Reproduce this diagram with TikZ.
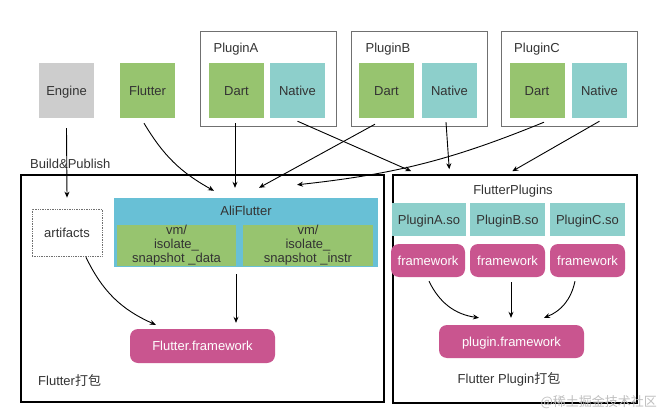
\documentclass[tikz,border=0pt]{standalone}
\usepackage{fontspec}
\setmainfont{Liberation Sans}
\newfontfamily\cjk{Noto Sans CJK SC}
\usetikzlibrary{arrows.meta}
\definecolor{cgray}{HTML}{CDCDCD}
\definecolor{cgreen}{HTML}{97C46F}
\definecolor{cteal}{HTML}{8DCFCB}
\definecolor{cblue}{HTML}{68C0D6}
\definecolor{cmag}{HTML}{C9558F}
\definecolor{ctext}{HTML}{333333}
\definecolor{cframe}{HTML}{707070}
\tikzset{
  even/.style={text height=12pt, text depth=2.7pt},
  sq/.style={even, minimum width=55pt, minimum height=55pt, inner sep=0pt, text=ctext},
  container/.style={draw=cframe, line width=0.8pt, minimum width=136pt, minimum height=95pt, inner sep=0pt},
  bigbox/.style={draw=black, line width=1.5pt, inner sep=0pt},
  sobox/.style={even, fill=cteal, minimum height=33pt, inner sep=0pt, text=ctext},
  fwbox/.style={even, fill=cmag, rounded corners=8pt, minimum height=33pt, inner sep=0pt, text=white},
  snapbox/.style={fill=cgreen, minimum height=39pt, inner sep=0pt, text=ctext, align=center,
    font=\fontsize{13}{14}\selectfont},
  lbl/.style={even, text=ctext, inner sep=0pt},
  arr/.style={-{Stealth[length=6pt,width=5pt]}, line width=0.9pt, black}
}
\begin{document}
\begin{tikzpicture}[x=1pt,y=1pt,font=\fontsize{13}{15}\selectfont]
\useasboundingbox[fill=white] (0,0) rectangle (662,-415);

% top row
\node[sq, fill=cgray] (engine) at (66.5,-90.5) {Engine};
\node[sq, fill=cgreen] (flutter) at (147.5,-90.5) {Flutter};

\node[container] (boxA) at (268,-78.5) {};
\node[lbl] (labA) at (236,-48) {PluginA};
\node[sq, fill=cgreen] (dartA) at (236.5,-90.5) {Dart};
\node[sq, fill=cteal] (nativeA) at (297.5,-90.5) {Native};

\node[container] (boxB) at (419,-78.5) {};
\node[lbl] (labB) at (388,-48) {PluginB};
\node[sq, fill=cgreen] (dartB) at (386.5,-90.5) {Dart};
\node[sq, fill=cteal] (nativeB) at (449.5,-90.5) {Native};

\node[container] (boxC) at (569,-78.5) {};
\node[lbl] (labC) at (537,-48) {PluginC};
\node[sq, fill=cgreen] (dartC) at (537,-90.5) {Dart};
\node[sq, fill=cteal] (nativeC) at (599.5,-90.5) {Native};

% big boxes
\node[bigbox, minimum width=363pt, minimum height=227pt] (leftbox) at (202.5,-288.5) {};
\node[bigbox, minimum width=244pt, minimum height=228pt] (rightbox) at (515,-289) {};

\node[lbl, anchor=west] (build) at (30,-164) {Build\&Publish};

% left content
\node[even, draw=cframe, densely dotted, line width=0.7pt, minimum width=70pt, minimum height=47pt, inner sep=0pt, text=ctext] (artifacts) at (67,-232.5) {artifacts};
\node[fill=cblue, minimum width=264pt, minimum height=69pt, inner sep=0pt] (aliflutter) at (246,-232.5) {};
\node[lbl] (alilab) at (246,-211) {AliFlutter};
\node[snapbox, minimum width=119pt] (snapdata) at (176.5,-245.5) {vm/\\isolate\_\\snapshot \_data};
\node[snapbox, minimum width=130pt] (snapinstr) at (308,-245.5) {vm/\\isolate\_\\snapshot \_instr};
\node[fwbox, minimum width=145pt, minimum height=34pt] (flutterfw) at (202.5,-346) {Flutter.framework};
\node[lbl, anchor=west] (leftlab) at (38,-381) {Flutter{\cjk 打包}};

% right content
\node[lbl] (fplab) at (513,-190) {FlutterPlugins};
\node[sobox, minimum width=74pt] (soA) at (429,-219.5) {PluginA.so};
\node[sobox, minimum width=75pt] (soB) at (507.5,-219.5) {PluginB.so};
\node[sobox, minimum width=75pt] (soC) at (587.5,-219.5) {PluginC.so};
\node[fwbox, minimum width=74pt] (fwA) at (428,-260.5) {framework};
\node[fwbox, minimum width=75pt] (fwB) at (507.5,-260.5) {framework};
\node[fwbox, minimum width=75pt] (fwC) at (587.5,-260.5) {framework};
\node[fwbox, minimum width=145pt] (pluginfw) at (511.5,-341.5) {plugin.framework};
\node[lbl] (rightlab) at (509,-379) {Flutter Plugin{\cjk 打包}};

\node[text=black!25, inner sep=0pt, anchor=east] (wm) at (657,-402) {{\cjk @稀土掘金技术社区}};

% arrows
\draw[arr] ([yshift=-10pt]engine.south) -- ([yshift=11pt]artifacts.north);
\draw[arr] ([xshift=-3.5pt,yshift=-5pt]flutter.south) to[bend right=15] ([xshift=-32pt,yshift=7pt]aliflutter.north);
\draw[arr] ([xshift=-1.5pt,yshift=-5pt]dartA.south) -- ([xshift=-11pt,yshift=10pt]aliflutter.north);
\draw[arr] ([xshift=-11.5pt,yshift=-6pt]dartB.south) -- ([xshift=13pt,yshift=10pt]aliflutter.north);
\draw[arr] ([xshift=7pt,yshift=-4pt]dartC.south) to[bend left=8] ([xshift=51pt,yshift=13pt]aliflutter.north);
\draw[arr] ([yshift=-3pt]nativeA.south) -- ([xshift=19pt,yshift=3pt]rightbox.north west);
\draw[arr] ([xshift=-3.5pt,yshift=-4pt]nativeB.south) -- ([xshift=57pt,yshift=5pt]rightbox.north west);
\draw[arr] ([yshift=-3pt]nativeC.south) -- ([xshift=120pt,yshift=3pt]rightbox.north west);

\draw[arr] ([xshift=-10pt,yshift=-7pt]aliflutter.south) -- ([xshift=33.5pt,yshift=6pt]flutterfw.north);
\draw[arr] ([xshift=19pt,yshift=-1pt]artifacts.south) to[bend right=20] ([xshift=26pt,yshift=4pt]flutterfw.north west);

\draw[arr] ([xshift=1pt,yshift=-4pt]fwA.south) to[bend right=28] ([xshift=-32.5pt,yshift=7pt]pluginfw.north);
\draw[arr] ([xshift=3.5pt,yshift=-5pt]fwB.south) -- ([xshift=-0.5pt,yshift=7pt]pluginfw.north);
\draw[arr] ([xshift=-12.5pt,yshift=-4pt]fwC.south) to[bend left=28] ([xshift=32.5pt,yshift=7pt]pluginfw.north);
\end{tikzpicture}
\end{document}
